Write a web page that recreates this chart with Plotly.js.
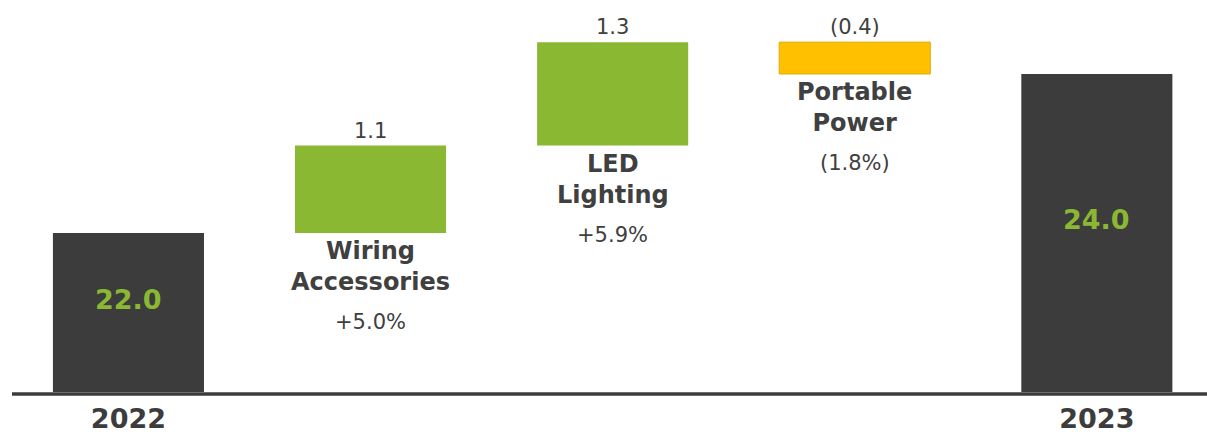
<!DOCTYPE html>
<html>
<head>
<meta charset="utf-8">
<script src="https://cdn.plot.ly/plotly-3.0.1.min.js"></script>
<style>html,body{margin:0;padding:0;background:#fff;}#chart{width:1207px;height:436px;}</style>
</head>
<body>
<div id="chart"></div>
<script>
// Data
const categories = ["2022", "Wiring Accessories", "LED Lighting", "Portable Power", "2023"];
const measures = ["absolute", "relative", "relative", "relative", "total"];
const values = [22.0, 1.1, 1.3, -0.4, 24.0];
const valueLabels = ["22.0", "1.1", "1.3", "(0.4)", "24.0"];
const nameLabels = ["", "Wiring<br>Accessories", "LED<br>Lighting", "Portable<br>Power", ""];
const pctLabels = ["", "+5.0%", "+5.9%", "(1.8%)", ""];
const tickLabels = ["2022", "", "", "", "2023"];

const FONT = "DejaVu Sans, sans-serif";
const DARK = "#3c3c3c";
const GREEN = "#8ab833";
const YELLOW = "#ffc000";
const TEXT = "#404040";

const xs = categories.map((c, i) => i);

// compute bar bottoms/tops via running total
let run = 0;
const bottoms = [], tops = [];
values.forEach((v, i) => {
  let lo, hi;
  if (measures[i] === "absolute" || measures[i] === "total") { lo = 20; hi = v; run = v; }
  else { lo = Math.min(run, run + v); hi = Math.max(run, run + v); run = run + v; }
  bottoms.push(lo); tops.push(hi);
});

const trace = {
  type: "waterfall",
  x: xs,
  y: values,
  measure: measures,
  base: 0,
  connector: {visible: false},
  increasing: {marker: {color: GREEN}},
  decreasing: {marker: {color: YELLOW, line: {color: "#e0a800", width: 1}}},
  totals: {marker: {color: DARK}},
  text: "",
  textposition: "none",
  hoverinfo: "none",
  cliponaxis: true
};

const annotations = [];
xs.forEach((x, i) => {
  if (measures[i] === "relative") {
    annotations.push({x: x, y: tops[i], xref: "x", yref: "y", text: valueLabels[i], showarrow: false,
      yanchor: "bottom", yshift: 1, font: {family: FONT, size: 21, color: TEXT}});
    annotations.push({x: x, y: bottoms[i], xref: "x", yref: "y", text: "<b>" + nameLabels[i] + "</b>", showarrow: false,
      yanchor: "top", yshift: -2, font: {family: FONT, size: 24, color: TEXT}});
    annotations.push({x: x, y: bottoms[i], xref: "x", yref: "y", text: pctLabels[i], showarrow: false,
      yanchor: "middle", yshift: -89, font: {family: FONT, size: 21, color: TEXT}});
  } else {
    annotations.push({x: x, y: (tops[i] + 20) / 2, xref: "x", yref: "y", text: "<b>" + valueLabels[i] + "</b>", showarrow: false,
      yanchor: "middle", yshift: 13, font: {family: FONT, size: 27, color: GREEN}});
  }
});

const layout = {
  width: 1207, height: 436,
  margin: {l: 12, r: 0, t: 0, b: 44},
  paper_bgcolor: "#fff", plot_bgcolor: "#fff",
  showlegend: false,
  waterfallgap: 0.376,
  xaxis: {
    range: [-0.481, 4.455],
    tickvals: xs, ticktext: tickLabels.map(t => t ? "<b>" + t + "</b>" : ""),
    tickfont: {family: FONT, size: 27, color: DARK},
    ticklabelstandoff: 8,
    showgrid: false, zeroline: false, showline: false, ticks: "", ticklen: 0
  },
  yaxis: {range: [20, 24.93], visible: false, showgrid: false, zeroline: false},
  shapes: [{type: "line", xref: "paper", yref: "paper", x0: 0, x1: 1, y0: -0.005, y1: -0.005, layer: "above", line: {color: DARK, width: 3.5}}],
  annotations: annotations
};

Plotly.newPlot("chart", [trace], layout, {displayModeBar: false, staticPlot: true});
</script>
</body>
</html>
